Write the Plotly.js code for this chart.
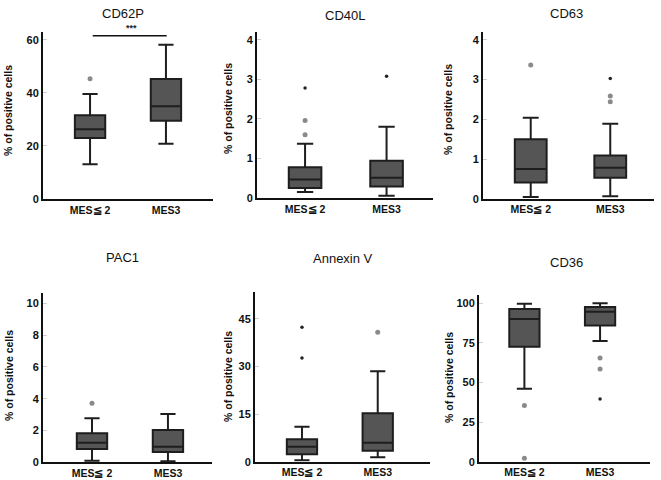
<!DOCTYPE html>
<html>
<head>
<meta charset="utf-8">
<script src="https://cdn.plot.ly/plotly-3.0.1.min.js"></script>
<style>html,body{margin:0;padding:0;background:#fff}#chart{width:661px;height:480px}</style>
</head>
<body>
<div id="chart"></div>
<script>
// Groups
var groups = ["MES≦ 2", "MES3"];
var panelTitles = ["CD62P", "CD40L", "CD63", "PAC1", "Annexin V", "CD36"];
var yTitle = "% of positive cells";

// Box statistics per panel: [MES<=2, MES3]
var cd62pQ1 = [23.0, 29.5], cd62pMed = [26.3, 35.0], cd62pQ3 = [31.6, 45.3], cd62pLo = [13.1, 20.8], cd62pHi = [39.6, 58.2];
var cd40lQ1 = [0.25, 0.29], cd40lMed = [0.47, 0.51], cd40lQ3 = [0.78, 0.94], cd40lLo = [0.15, 0.06], cd40lHi = [1.37, 1.80];
var cd63Q1 = [0.41, 0.53], cd63Med = [0.75, 0.78], cd63Q3 = [1.50, 1.09], cd63Lo = [0.04, 0.06], cd63Hi = [2.04, 1.89];
var pac1Q1 = [0.84, 0.65], pac1Med = [1.23, 0.98], pac1Q3 = [1.82, 2.03], pac1Lo = [0.10, 0.06], pac1Hi = [2.77, 3.04];
var anxQ1 = [2.33, 3.47], anxMed = [4.73, 6.0], anxQ3 = [7.06, 15.25], anxLo = [0.44, 1.38], anxHi = [11.0, 28.5];
var cd36Q1 = [72.6, 85.9], cd36Med = [90.1, 94.7], cd36Q3 = [96.4, 97.7], cd36Lo = [46.1, 76.2], cd36Hi = [99.6, 100.0];

// Outliers (circles) and extremes (dots): group index and value
var cd62pOutG = [0], cd62pOutV = [45.4];
var cd62pExtG = [], cd62pExtV = [];
var cd40lOutG = [0, 0], cd40lOutV = [1.60, 1.96];
var cd40lExtG = [0, 1], cd40lExtV = [2.78, 3.08];
var cd63OutG = [0, 1, 1], cd63OutV = [3.37, 2.59, 2.44];
var cd63ExtG = [1], cd63ExtV = [3.03];
var pac1OutG = [0], pac1OutV = [3.71];
var pac1ExtG = [], pac1ExtV = [];
var anxOutG = [1], anxOutV = [40.8];
var anxExtG = [0, 0], anxExtV = [42.4, 32.7];
var cd36OutG = [0, 0, 1, 1], cd36OutV = [35.4, 2.1, 65.5, 58.5];
var cd36ExtG = [1], cd36ExtV = [39.6];

// Axis ticks
var cd62pTicks = [0, 20, 40, 60];
var cd40lTicks = [0, 1, 2, 3, 4];
var cd63Ticks = [0, 1, 2, 3, 4];
var pac1Ticks = [0, 2, 4, 6, 8, 10];
var anxTicks = [0, 15, 30, 45];
var cd36Ticks = [0, 25, 50, 75, 100];

var stats = [
  [cd62pQ1, cd62pMed, cd62pQ3, cd62pLo, cd62pHi, cd62pOutG, cd62pOutV, cd62pExtG, cd62pExtV, cd62pTicks],
  [cd40lQ1, cd40lMed, cd40lQ3, cd40lLo, cd40lHi, cd40lOutG, cd40lOutV, cd40lExtG, cd40lExtV, cd40lTicks],
  [cd63Q1, cd63Med, cd63Q3, cd63Lo, cd63Hi, cd63OutG, cd63OutV, cd63ExtG, cd63ExtV, cd63Ticks],
  [pac1Q1, pac1Med, pac1Q3, pac1Lo, pac1Hi, pac1OutG, pac1OutV, pac1ExtG, pac1ExtV, pac1Ticks],
  [anxQ1, anxMed, anxQ3, anxLo, anxHi, anxOutG, anxOutV, anxExtG, anxExtV, anxTicks],
  [cd36Q1, cd36Med, cd36Q3, cd36Lo, cd36Hi, cd36OutG, cd36OutV, cd36ExtG, cd36ExtV, cd36Ticks]
];

// Layout geometry (pixels)
var W = 661, H = 480;
var px = [[43, 213], [257, 433], [483, 654], [43, 212], [255, 430], [479, 650]];
var py = [[32, 199], [32, 198], [32, 198.7], [293, 462.3], [292, 461.7], [295, 461.7]];
var yRanges = [[0, 63], [0, 4.2], [0, 4.2], [0, 10.65], [0, 53.5], [0, 105.2]];
var xRanges = [[-0.62, 1.62], [-0.59, 1.57], [-0.6, 1.55], [-0.645, 1.58], [-0.62, 1.69], [-0.6, 1.66]];
var titlePos = [[123, 13], [345, 15], [566, 13], [123, 257], [343, 258], [566, 262]];
var yTitlePos = [[8, 111], [228, 109], [448, 110], [9, 376], [228, 377], [449, 378]];

var data = [];
var layout = {
  width: W, height: H,
  margin: {l: 0, r: 0, t: 0, b: 0},
  paper_bgcolor: "#fff", plot_bgcolor: "#fff",
  showlegend: false,
  font: {family: "Liberation Sans, Arial, sans-serif", color: "#111"},
  annotations: [], shapes: []
};

function pick(arr, idx) { return idx.map(function (i) { return arr[i]; }); }

for (var p = 0; p < 6; p++) {
  var s = stats[p];
  var xa = "x" + (p === 0 ? "" : p + 1), ya = "y" + (p === 0 ? "" : p + 1);
  data.push({
    type: "box", xaxis: xa, yaxis: ya, x: groups,
    q1: s[0], median: s[1], q3: s[2], lowerfence: s[3], upperfence: s[4],
    width: 0.4, whiskerwidth: 0.5,
    fillcolor: "#555555", line: {color: "#1e1e1e", width: 2},
    boxpoints: false, hoverinfo: "none"
  });
  if (s[5].length) data.push({
    type: "scatter", mode: "markers", xaxis: xa, yaxis: ya,
    x: pick(groups, s[5]), y: s[6],
    marker: {size: 5, color: "#8a8a8a", line: {width: 0}}, hoverinfo: "none"
  });
  if (s[7].length) data.push({
    type: "scatter", mode: "markers", xaxis: xa, yaxis: ya,
    x: pick(groups, s[7]), y: s[8],
    marker: {size: 3.5, color: "#222", line: {width: 0}}, hoverinfo: "none"
  });
  var xk = "xaxis" + (p === 0 ? "" : p + 1), yk = "yaxis" + (p === 0 ? "" : p + 1);
  layout[xk] = {
    domain: [px[p][0] / W, px[p][1] / W], anchor: ya,
    type: "category", range: xRanges[p], fixedrange: true,
    showline: true, linecolor: "#111", linewidth: 2,
    showgrid: false, zeroline: false, ticks: "",
    tickfont: {size: 10.5, family: "Liberation Sans, Arial, sans-serif", color: "#111", weight: "bold"}
  };
  layout[yk] = {
    domain: [1 - py[p][1] / H, 1 - py[p][0] / H], anchor: xa,
    range: yRanges[p], fixedrange: true,
    tickvals: s[9], ticktext: s[9].map(String),
    showline: true, linecolor: "#111", linewidth: 2,
    showgrid: false, zeroline: false,
    ticks: "inside", ticklen: 4, tickcolor: "#d0d0d0", tickwidth: 1,
    tickfont: {size: 11, family: "Liberation Sans, Arial, sans-serif", color: "#111", weight: "bold"}
  };
  layout.annotations.push({
    xref: "paper", yref: "paper", x: titlePos[p][0] / W, y: 1 - titlePos[p][1] / H,
    xanchor: "center", yanchor: "middle", showarrow: false,
    text: panelTitles[p], font: {size: 13, color: "#111"}
  });
  layout.annotations.push({
    xref: "paper", yref: "paper", x: yTitlePos[p][0] / W, y: 1 - yTitlePos[p][1] / H,
    xanchor: "center", yanchor: "middle", showarrow: false, textangle: -90,
    text: yTitle, font: {size: 10.5, color: "#111", weight: "bold"}
  });
}

// Significance bar on CD62P
var sigY = 61.6;
layout.shapes.push({type: "line", xref: "x", yref: "y", x0: 0.035, x1: 1.01, y0: sigY, y1: sigY, line: {color: "#111", width: 1.5}});
layout.annotations.push({xref: "x", yref: "y", x: 0.54, y: sigY, yshift: 8, showarrow: false, text: "***", font: {size: 9, color: "#222", weight: "bold"}});

Plotly.newPlot("chart", data, layout, {staticPlot: true, displayModeBar: false});
</script>
</body>
</html>
